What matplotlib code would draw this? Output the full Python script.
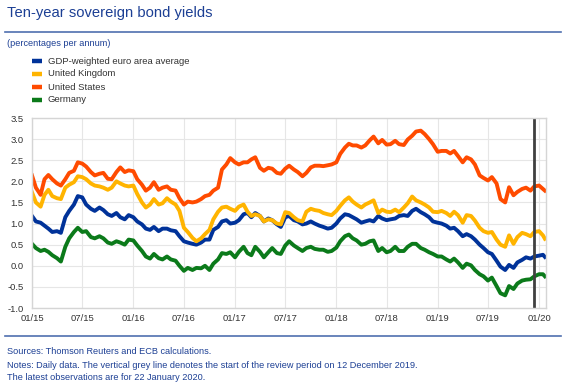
import pandas as pd
import matplotlib
matplotlib.use("Agg")
import matplotlib.pyplot as plt
import matplotlib.dates as mdates
from matplotlib.lines import Line2D

plt.rcParams['font.family'] = ['Liberation Sans', 'DejaVu Sans']

# semi-monthly observation dates (1st and 15th), plus the last observation
dates = list(pd.date_range('2015-01-01', '2020-01-15', freq='SMS')) + [pd.Timestamp('2020-01-22')]

euro_area = [
    1.18, 1.05, 1.02, 0.95, 0.88, 0.80, 0.82, 0.78, 1.15, 1.30, 1.45, 1.65,
    1.62, 1.45, 1.35, 1.30, 1.38, 1.32, 1.22, 1.18, 1.25, 1.15, 1.10, 1.20,
    1.15, 1.05, 0.98, 0.88, 0.85, 0.92, 0.82, 0.88, 0.88, 0.84, 0.82, 0.70,
    0.58, 0.55, 0.52, 0.50, 0.55, 0.62, 0.62, 0.85, 0.92, 1.05, 1.08, 1.00,
    1.02, 1.08, 1.22, 1.25, 1.15, 1.25, 1.18, 1.05, 1.12, 1.08, 0.98, 0.92,
    1.15, 1.18, 1.08, 1.05, 0.98, 1.00, 1.05, 1.00, 0.95, 0.92, 0.88, 0.90,
    1.00, 1.12, 1.22, 1.20, 1.15, 1.10, 1.02, 1.05, 1.08, 1.05, 1.18, 1.12,
    1.08, 1.10, 1.12, 1.18, 1.20, 1.18, 1.30, 1.35, 1.27, 1.22, 1.15, 1.05,
    1.02, 1.00, 0.95, 0.88, 0.90, 0.82, 0.70, 0.75, 0.70, 0.62, 0.50, 0.42,
    0.32, 0.28, 0.12, -0.02, -0.10, 0.02, -0.05, 0.08, 0.14, 0.20, 0.17, 0.22,
    0.24, 0.26, 0.21,
]

united_kingdom = [
    1.74, 1.50, 1.40, 1.68, 1.80, 1.65, 1.60, 1.58, 1.85, 1.92, 1.98, 2.12,
    2.10, 2.05, 1.95, 1.90, 1.88, 1.85, 1.80, 1.85, 2.00, 1.95, 1.90, 1.88,
    1.90, 1.70, 1.50, 1.38, 1.45, 1.58, 1.45, 1.48, 1.60, 1.52, 1.45, 1.30,
    0.90, 0.80, 0.66, 0.58, 0.65, 0.75, 0.85, 1.10, 1.28, 1.38, 1.40, 1.35,
    1.30, 1.40, 1.45, 1.28, 1.18, 1.22, 1.18, 1.05, 1.10, 1.08, 1.00, 0.98,
    1.27, 1.25, 1.15, 1.08, 1.05, 1.28, 1.35, 1.32, 1.30, 1.25, 1.22, 1.20,
    1.30, 1.42, 1.55, 1.62, 1.52, 1.45, 1.38, 1.45, 1.50, 1.55, 1.25, 1.33,
    1.28, 1.27, 1.33, 1.27, 1.38, 1.48, 1.64, 1.55, 1.50, 1.45, 1.38, 1.28,
    1.27, 1.30, 1.25, 1.18, 1.28, 1.20, 1.02, 1.20, 1.18, 1.07, 0.90, 0.82,
    0.78, 0.80, 0.62, 0.50, 0.45, 0.72, 0.52, 0.68, 0.78, 0.75, 0.70, 0.80,
    0.82, 0.72, 0.64,
]

united_states = [
    2.14, 1.85, 1.68, 2.05, 2.15, 2.05, 1.95, 1.90, 2.05, 2.20, 2.25, 2.45,
    2.42, 2.35, 2.22, 2.14, 2.18, 2.20, 2.06, 2.05, 2.22, 2.33, 2.22, 2.26,
    2.24, 2.05, 1.92, 1.78, 1.85, 1.98, 1.80, 1.85, 1.88, 1.80, 1.78, 1.60,
    1.45, 1.52, 1.50, 1.52, 1.58, 1.65, 1.68, 1.78, 1.85, 2.28, 2.40, 2.55,
    2.45, 2.40, 2.45, 2.45, 2.52, 2.57, 2.32, 2.25, 2.32, 2.30, 2.20, 2.18,
    2.30, 2.37, 2.28, 2.22, 2.12, 2.20, 2.33, 2.37, 2.37, 2.36, 2.38, 2.40,
    2.45, 2.65, 2.80, 2.89, 2.85, 2.85, 2.80, 2.85, 2.97, 3.06, 2.90, 2.98,
    2.87, 2.88, 2.96, 2.88, 2.86, 2.99, 3.08, 3.18, 3.20, 3.12, 3.00, 2.88,
    2.70, 2.72, 2.72, 2.66, 2.72, 2.60, 2.45, 2.57, 2.52, 2.40, 2.14, 2.08,
    2.02, 2.10, 1.95, 1.58, 1.50, 1.86, 1.67, 1.75, 1.82, 1.85, 1.78, 1.88,
    1.90, 1.82, 1.78,
]

germany = [
    0.52, 0.42, 0.35, 0.38, 0.33, 0.25, 0.18, 0.10, 0.45, 0.65, 0.80, 0.90,
    0.80, 0.82, 0.68, 0.65, 0.70, 0.65, 0.55, 0.52, 0.58, 0.55, 0.50, 0.62,
    0.60, 0.48, 0.35, 0.22, 0.17, 0.28, 0.18, 0.15, 0.22, 0.15, 0.12, 0.00,
    -0.12, -0.05, -0.10, -0.05, -0.06, 0.00, -0.10, 0.05, 0.15, 0.30, 0.28, 0.32,
    0.20, 0.33, 0.45, 0.30, 0.25, 0.45, 0.33, 0.20, 0.32, 0.42, 0.30, 0.28,
    0.48, 0.58, 0.48, 0.42, 0.35, 0.42, 0.45, 0.40, 0.38, 0.38, 0.33, 0.35,
    0.43, 0.58, 0.70, 0.74, 0.65, 0.60, 0.50, 0.52, 0.58, 0.60, 0.35, 0.42,
    0.32, 0.35, 0.45, 0.35, 0.35, 0.45, 0.52, 0.52, 0.42, 0.38, 0.32, 0.28,
    0.22, 0.22, 0.15, 0.10, 0.17, 0.08, -0.05, 0.05, 0.01, -0.10, -0.20, -0.25,
    -0.35, -0.28, -0.48, -0.65, -0.70, -0.48, -0.55, -0.42, -0.35, -0.33, -0.32, -0.25,
    -0.20, -0.20, -0.25,
]

series_names = ['GDP-weighted euro area average', 'United Kingdom', 'United States', 'Germany']
series_values = [euro_area, united_kingdom, united_states, germany]
colors = ['#003299', '#FFB400', '#FF4B00', '#0B7A1A']

review_start = pd.Timestamp('2019-12-12')
tick_dates = pd.date_range('2015-01-01', '2020-01-01', freq='6MS')

title_col = '#1C3F94'
text_col = '#333333'

fig = plt.figure(figsize=(5.67, 3.85), dpi=100)
W, H = 567, 385

def fx(px):
    return px / W

def fy(py):
    return 1 - py / H

# title block
fig.text(fx(7), fy(6), 'Ten-year sovereign bond yields', color=title_col,
         fontsize=10.6, va='top', ha='left')
fig.add_artist(Line2D([fx(5), fx(561)], [fy(32), fy(32)], color='#4F6FAF', lw=1.2))
fig.text(fx(7), fy(43), '(percentages per annum)', color=title_col,
         fontsize=6.6, va='center', ha='left')

# legend
for i, (name, c) in enumerate(zip(series_names, colors)):
    yy = fy(61 + 13 * i)
    fig.add_artist(Line2D([fx(32), fx(42)], [yy, yy], color=c, lw=3.2, solid_capstyle='butt'))
    fig.text(fx(48), yy, name, color=text_col, fontsize=6.8, va='center', ha='left')

# plot area
ax = fig.add_axes([fx(32), fy(308), fx(546) - fx(32), fy(118) - fy(308)])
for vals, c in zip(series_values, colors):
    ax.plot(dates, vals, color=c, lw=2.8, solid_joinstyle='round')

ax.axvline(review_start, color='#404040', lw=2)

ax.set_xlim(pd.Timestamp('2015-01-01'), pd.Timestamp('2020-01-26'))
ax.set_ylim(-1.0, 3.5)
ax.set_yticks([-1.0, -0.5, 0.0, 0.5, 1.0, 1.5, 2.0, 2.5, 3.0, 3.5])
ax.set_xticks(tick_dates)
ax.xaxis.set_major_formatter(mdates.DateFormatter('%m/%y'))
ax.yaxis.set_major_formatter(plt.FormatStrFormatter('%.1f'))
ax.tick_params(length=0, labelsize=6.8, labelcolor=text_col)
ax.tick_params(axis='y', pad=6)
ax.tick_params(axis='x', pad=4)
ax.grid(True, color='#E6E6E6', lw=0.8)
ax.set_axisbelow(True)
for s in ax.spines.values():
    s.set_color('#D5D5D5')
    s.set_linewidth(1.0)

# footnotes
fig.add_artist(Line2D([fx(5), fx(561)], [fy(336), fy(336)], color='#4F6FAF', lw=1.2))
notes = [
    'Sources: Thomson Reuters and ECB calculations.',
    'Notes: Daily data. The vertical grey line denotes the start of the review period on 12 December 2019.',
    'The latest observations are for 22 January 2020.',
]
for i, line in enumerate(notes):
    fig.text(fx(7), fy(352 + 13 * i), line, color=title_col, fontsize=6.6,
             va='center', ha='left')

fig.savefig('out.png', dpi=100)
